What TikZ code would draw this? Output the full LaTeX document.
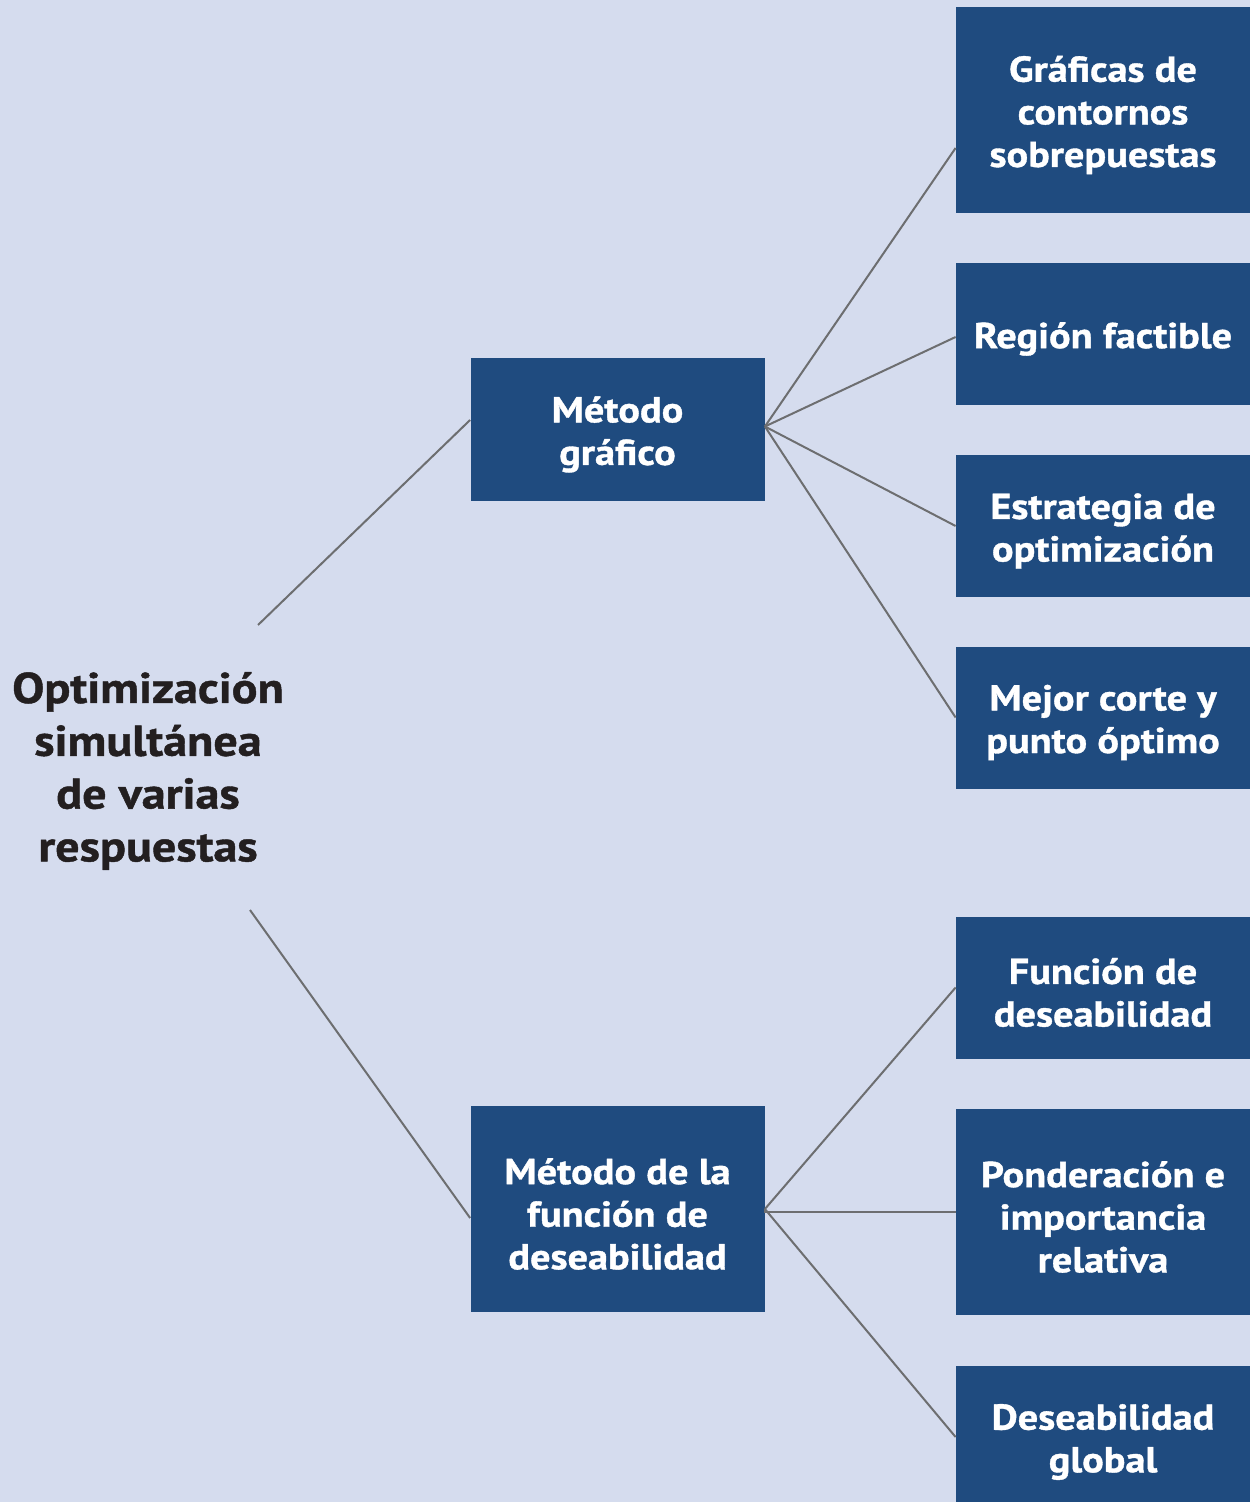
\documentclass[tikz,border=0pt]{standalone}
\usepackage{fontspec}
\setmainfont{PT Sans}[FakeStretch=1.12, FakeBold=1]
\usetikzlibrary{calc}
\definecolor{bgc}{HTML}{D5DCEE}
\definecolor{boxc}{HTML}{1F4B7F}
\definecolor{titc}{HTML}{231F20}
\definecolor{linc}{HTML}{6D6E70}
\tikzset{
  bluebox/.style={fill=boxc, inner sep=0pt, minimum width=147pt},
  boxtext/.style={text=white, inner sep=0pt, align=center, yshift=-2.5pt,
    font=\bfseries\fontsize{18}{21.3}\selectfont},
  tallbox/.style={bluebox, minimum height=103pt},
  shortbox/.style={bluebox, minimum height=71pt},
  titletext/.style={text=titc, align=center, inner sep=0pt,
    font=\bfseries\fontsize{21.5}{26.4}\selectfont},
  link/.style={draw=linc, line width=1pt}
}
\begin{document}
\begin{tikzpicture}[x=0.5pt,y=-0.5pt]
\fill[bgc] (0,0) rectangle (1250,1502);
\useasboundingbox (0,0) rectangle (1250,1502);

\node[titletext] (title) at (148,771) {Optimización\\simultánea\\de varias\\respuestas};

\node[shortbox, label={[boxtext]center:{Método\\gráfico}}] (m1) at (617.5,429.5) {};
\node[tallbox, label={[boxtext]center:{Método de la\\función de\\deseabilidad}}] (m2) at (617.5,1209) {};

\node[tallbox, label={[boxtext]center:{Gráficas de\\contornos\\sobrepuestas}}] (r1) at (1103,110) {};
\node[shortbox, label={[boxtext]center:{Región factible}}] (r2) at (1103,334) {};
\node[shortbox, label={[boxtext]center:{Estrategia de\\optimización}}] (r3) at (1103,526) {};
\node[shortbox, label={[boxtext]center:{Mejor corte y\\punto óptimo}}] (r4) at (1103,717.5) {};
\node[shortbox, label={[boxtext]center:{Función de\\deseabilidad}}] (r5) at (1103,987.5) {};
\node[tallbox, label={[boxtext]center:{Ponderación e\\importancia\\relativa}}] (r6) at (1103,1212) {};
\node[shortbox, label={[boxtext]center:{Deseabilidad\\global}}] (r7) at (1103,1437) {};

\coordinate (t1) at (258,625);
\coordinate (t2) at (250,910);
\coordinate (m1in) at ([yshift=4.75pt]m1.west);
\coordinate (m2in) at ([yshift=-4.5pt]m2.west);
\coordinate (m1out) at ([yshift=1.5pt]m1.east);
\coordinate (r1in) at ([yshift=-19pt]r1.west);
\coordinate (r2in) at ([yshift=-1.5pt]r2.west);

\draw[link] (t1) -- (m1in);
\draw[link] (t2) -- (m2in);
\draw[link] (m1out) -- (r1in);
\draw[link] (m1out) -- (r2in);
\draw[link] (m1out) -- (r3.west);
\draw[link] (m1out) -- (r4.west);
\draw[link] (m2.east) -- (r5.west);
\draw[link] (m2.east) -- (r6.west -| m2.east) -- (r6.west);
\draw[link] (m2.east) -- (r7.west);
\end{tikzpicture}
\end{document}
